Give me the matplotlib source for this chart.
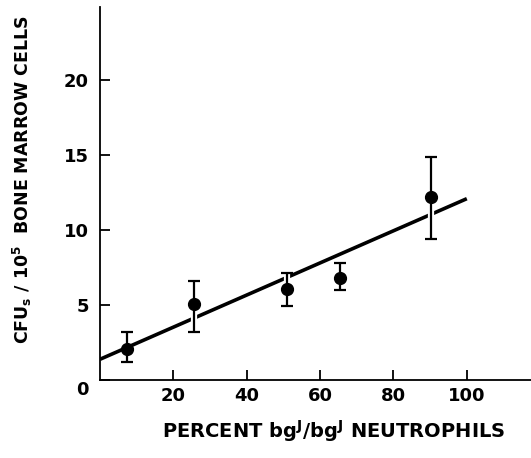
import matplotlib
matplotlib.use("Agg")
import matplotlib.pyplot as plt
import matplotlib.patheffects as pe
import matplotlib.transforms as mtrans
import numpy as np

# Data
pct = [7.3, 25.7, 51.1, 65.3, 90.3]
cfu = [2.05, 5.05, 6.05, 6.8, 12.2]
err_hi = [1.15, 1.55, 1.1, 1.0, 2.65]
err_lo = [0.85, 1.85, 1.12, 0.8, 2.8]
fit_x = [0, 100]
fit_intercept = 1.38
fit_slope = 0.107
xticks = [20, 40, 60, 80, 100]
yticks = [0, 5, 10, 15, 20]

W, H = 531, 458
fig = plt.figure(figsize=(W / 100, H / 100), dpi=100)
ax = fig.add_axes([100 / W, (H - 380) / H, 431 / W, 373 / H])

font = dict(family=["DejaVu Sans"], fontweight="bold")

fx = np.array(fit_x, dtype=float)
ax.plot(fx, fit_intercept + fit_slope * fx, color="black", lw=2.6,
        solid_capstyle="butt", zorder=2)

eb = ax.errorbar(pct, cfu, yerr=[err_lo, err_hi], fmt="o", color="black",
                 ms=8.5, elinewidth=1.6, capsize=4, capthick=1.6, zorder=3)
for line in eb[2]:
    line.set_path_effects([pe.Stroke(linewidth=4.5, foreground="white"), pe.Normal()])

ax.set_xlim(0, 117.5)
ax.set_ylim(0, 24.85)
ax.spines["top"].set_visible(False)
ax.spines["right"].set_visible(False)
for s in ("left", "bottom"):
    ax.spines[s].set_linewidth(1.3)

ax.set_xticks(xticks)
ax.set_yticks(yticks)
ax.set_xticklabels([str(t) for t in xticks], **font, fontsize=13)
ax.set_yticklabels([str(t) for t in yticks], **font, fontsize=13)
ax.tick_params(axis="both", direction="in", length=7, width=1.3, pad=5)
ax.tick_params(axis="y", pad=8)
# shift the "0" label down slightly as in the reference
lbl0 = ax.get_yticklabels()[0]
lbl0.set_transform(lbl0.get_transform() + mtrans.ScaledTranslation(0, -6 / 72, fig.dpi_scale_trans))

fig.text(334 / W, 1 - 431 / H, r"PERCENT bg$^{\mathregular{J}}$/bg$^{\mathregular{J}}$ NEUTROPHILS",
         ha="center", va="center", fontsize=14, **font)
fig.text(22 / W, 1 - 180 / H,
         r"CFU$_{\mathregular{s}}$ / 10$^{\mathregular{5}}$  BONE MARROW CELLS",
         ha="center", va="center", rotation=90, fontsize=12.5, **font)

fig.savefig("out.png", dpi=100)
